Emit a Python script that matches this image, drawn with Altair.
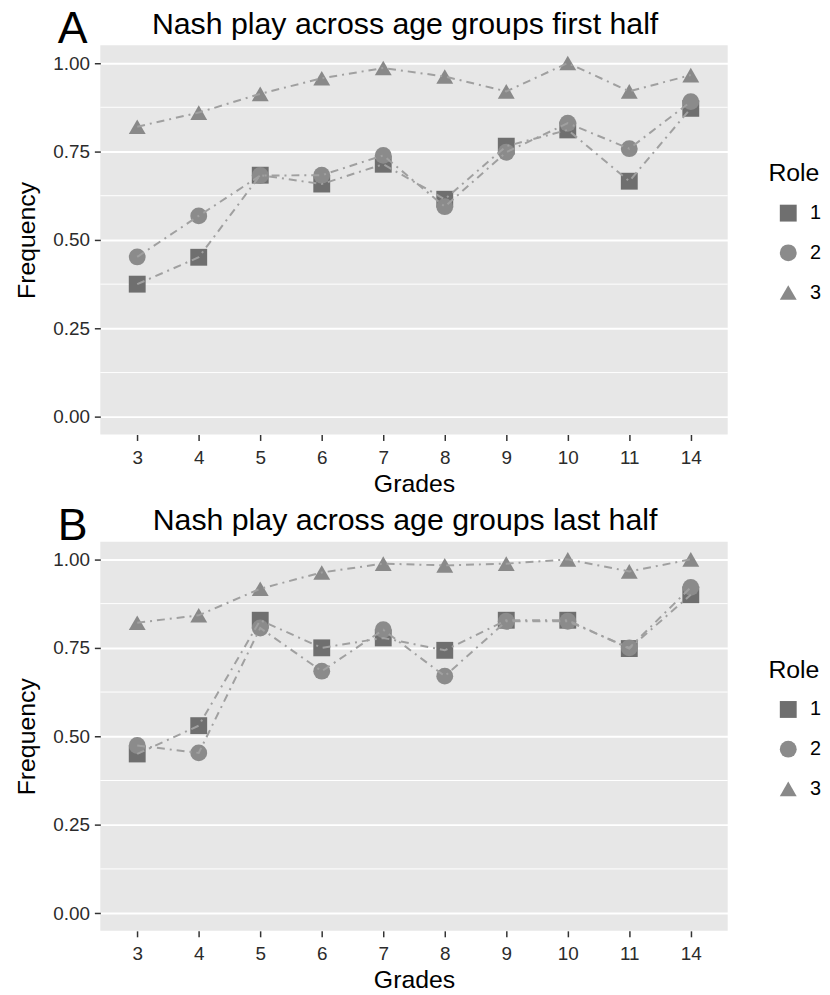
import altair as alt
import pandas as pd

FONT = "Liberation Sans"

grades = ["3", "4", "5", "6", "7", "8", "9", "10", "11", "14"]
roles = ["1", "2", "3"]

# Panel A: first half
a_role1 = [0.375, 0.451, 0.683, 0.658, 0.714, 0.615, 0.765, 0.811, 0.666, 0.872]
a_role2 = [0.452, 0.568, 0.682, 0.683, 0.739, 0.594, 0.748, 0.830, 0.758, 0.891]
a_role3 = [0.820, 0.860, 0.913, 0.957, 0.986, 0.962, 0.920, 1.000, 0.920, 0.966]

# Panel B: last half
b_role1 = [0.450, 0.530, 0.828, 0.750, 0.778, 0.743, 0.828, 0.828, 0.748, 0.900]
b_role2 = [0.474, 0.453, 0.806, 0.684, 0.801, 0.670, 0.825, 0.825, 0.750, 0.921]
b_role3 = [0.821, 0.842, 0.917, 0.963, 0.988, 0.983, 0.988, 1.000, 0.966, 1.000]

y_ticks = [0.0, 0.25, 0.5, 0.75, 1.0]
minor_y = [0.125, 0.375, 0.625, 0.875]

role_colors = ["#6f6f6f", "#8b8b8b", "#898989"]
role_shapes = ["square", "circle", "triangle-up"]
role_sizes = [289, 289, 400]


def make_df(r1, r2, r3):
    rows = []
    for role, vals in zip(roles, [r1, r2, r3]):
        for g, v in zip(grades, vals):
            rows.append({"Grade": g, "Frequency": v, "Role": role})
    return pd.DataFrame(rows)


def panel(df, title, tag):
    yscale = alt.Scale(domain=[-0.05, 1.05], nice=False, zero=False)
    yaxis = alt.Axis(title="Frequency", values=y_ticks, format=".2f",
                     labelPadding=5, titlePadding=13)
    x = alt.X(
        "Grade:O",
        sort=grades,
        scale=alt.Scale(type="point", padding=0.6),
        axis=alt.Axis(title="Grades", labelAngle=0, labelPadding=8, titlePadding=4),
    )
    y = alt.Y("Frequency:Q", scale=yscale, axis=yaxis)
    leg = alt.Legend(
        title="Role",
        orient="none",
        legendX=673,
        legendY=117,
    )
    minor = (
        alt.Chart(pd.DataFrame({"m": minor_y}))
        .mark_rule(color="white", strokeWidth=1)
        .encode(y=alt.Y("m:Q", scale=yscale, axis=yaxis))
    )
    pts = (
        alt.Chart(df)
        .mark_point(filled=True, opacity=1, strokeWidth=0)
        .encode(
            x=x,
            y=y,
            shape=alt.Shape("Role:N", scale=alt.Scale(domain=roles, range=role_shapes), legend=leg),
            color=alt.Color("Role:N", scale=alt.Scale(domain=roles, range=role_colors), legend=leg),
            size=alt.Size("Role:N", scale=alt.Scale(domain=roles, range=role_sizes), legend=leg),
        )
    )
    lines = (
        alt.Chart(df)
        .mark_line(color="#a0a0a0", strokeWidth=2, strokeDash=[8, 5, 2, 5])
        .encode(x=x, y=y, detail="Role:N")
    )
    tagtext = (
        alt.Chart(pd.DataFrame({"t": [tag]}))
        .mark_text(fontSize=45, font=FONT, align="center", baseline="alphabetic", color="black")
        .encode(text="t:N", x=alt.value(-28), y=alt.value(-2))
    )
    return alt.layer(minor, pts, lines, tagtext).properties(
        width=632,
        height=392,
        title=alt.TitleParams(
            title,
            fontSize=30.5,
            fontWeight="normal",
            font=FONT,
            color="black",
            anchor="middle",
            frame="group",
            offset=-33,
            dx=-9,
        ),
    )


pa = panel(make_df(a_role1, a_role2, a_role3), "Nash play across age groups first half", "A")
pb = panel(make_df(b_role1, b_role2, b_role3), "Nash play across age groups last half", "B")

chart = (
    alt.vconcat(pa, pb, spacing=108, bounds="flush")
    .resolve_scale(shape="independent", color="independent", size="independent")
    .properties(padding={"left": 7, "top": -4, "right": 0, "bottom": 0}, background="white")
    .configure_view(fill="#E7E7E7", strokeWidth=0)
    .configure_axis(
        labelFont=FONT,
        titleFont=FONT,
        labelFontSize=19,
        labelColor="#2b2b2b",
        titleFontSize=25,
        titleFontWeight="normal",
        titleColor="black",
        tickColor="#333333",
        tickSize=6,
        tickWidth=1.5,
        domain=False,
        gridColor="white",
        gridWidth=2,
    )
    .configure_legend(
        titleFont=FONT,
        labelFont=FONT,
        titleFontSize=25,
        titleFontWeight="normal",
        titleColor="black",
        labelFontSize=20,
        labelColor="black",
        rowPadding=20,
        titlePadding=17,
        labelOffset=12,
        symbolOffset=10,
        symbolOpacity=1,
        symbolStrokeWidth=0,
    )
)

chart.save("out.html", embed_options={"renderer": "svg", "actions": False})
